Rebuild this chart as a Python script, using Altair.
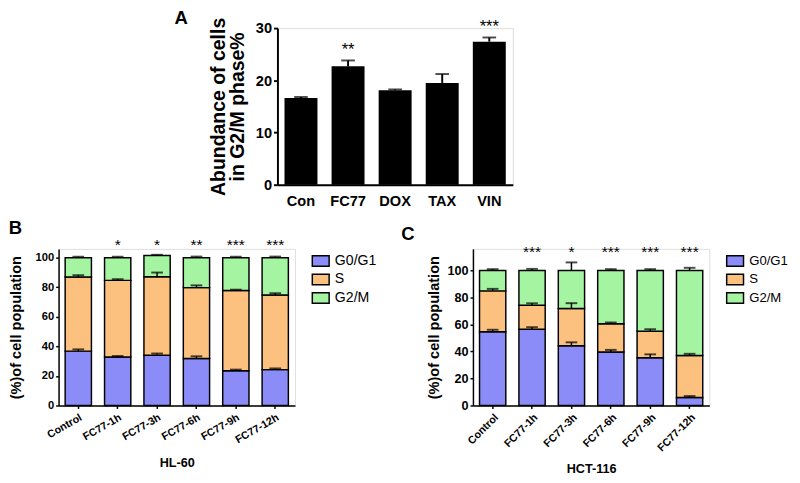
import altair as alt
import pandas as pd

FONT = "Liberation Sans"

# ---------------- Panel A data ----------------
a_groups = ["Con", "FC77", "DOX", "TAX", "VIN"]
a_means = [16.6, 22.7, 18.1, 19.5, 27.4]
a_errs = [0.2, 1.1, 0.15, 1.7, 0.8]
a_stars = ["", "**", "", "", "***"]

# ---------------- Panel B data (HL-60) ----------------
b_groups = ["Control", "FC77-1h", "FC77-3h", "FC77-6h", "FC77-9h", "FC77-12h"]
b_g0g1 = [36.8, 32.9, 34.0, 31.8, 23.5, 24.3]
b_s = [50.2, 51.8, 53.2, 48.0, 54.3, 50.5]
b_g2m = [13.0, 15.3, 14.3, 20.2, 22.2, 25.2]
b_g0g1_err = [1.2, 0.6, 1.2, 1.5, 0.8, 0.8]
b_s_err = [1.2, 0.8, 2.8, 1.5, 0.6, 1.2]
b_g2m_err = [0.7, 0.7, 0.5, 0.8, 0.7, 0.8]
b_stars = ["", "*", "*", "**", "***", "***"]

# ---------------- Panel C data (HCT-116) ----------------
c_groups = ["Control", "FC77-1h", "FC77-3h", "FC77-6h", "FC77-9h", "FC77-12h"]
c_g0g1 = [54.6, 56.5, 44.3, 39.7, 35.4, 6.0]
c_s = [30.3, 17.7, 27.5, 20.8, 19.6, 31.1]
c_g2m = [15.1, 25.8, 28.2, 39.5, 45.0, 62.9]
c_g0g1_err = [1.5, 1.5, 2.5, 1.5, 2.5, 1.0]
c_s_err = [1.5, 1.5, 4.0, 1.0, 1.5, 1.2]
c_g2m_err = [1.0, 1.2, 6.0, 1.0, 1.0, 2.0]
c_stars = ["", "***", "*", "***", "***", "***"]

phases = ["G0/G1", "S", "G2/M"]
phase_colors = ["#8C8CF8", "#FDC17F", "#A4F4A2"]


def stacked_df(groups, segs, errs):
    rows = []
    for i, g in enumerate(groups):
        start = 0.0
        for p, seg, err in zip(phases, segs, errs):
            end = start + seg[i]
            rows.append({"group": g, "phase": p, "start": start, "end": end,
                         "err_top": end + err[i]})
            start = end
    return pd.DataFrame(rows)


def stacked_panel(label, groups, segs, errs, stars, ymax, star_y, xtitle,
                  tick_fs, x_angle, x_title_pad, title_pad, legend_fs, title_dx, title_dy):
    df = stacked_df(groups, segs, errs)
    xaxis = alt.Axis(title=xtitle, labelAngle=x_angle, labelAlign="right", labelBaseline="top",
                     labelFont=FONT, labelFontSize=11, labelFontWeight="bold",
                     labelColor="black", tickColor="black", tickSize=3, tickWidth=1.5,
                     domainColor="black", domainWidth=1.5, labelPadding=3,
                     labelOverlap=False,
                     titleFont=FONT, titleFontSize=13, titleFontWeight="bold",
                     titleColor="black", titlePadding=x_title_pad)
    x = alt.X("group:N", sort=groups,
              scale=alt.Scale(paddingInner=0.333, paddingOuter=0.167), axis=xaxis)
    yscale = alt.Scale(domain=[0, ymax], nice=False, zero=True)
    yaxis = alt.Axis(title="(%)of cell population", values=[0, 20, 40, 60, 80, 100],
                     labelFont=FONT, labelFontSize=tick_fs, labelFontWeight="bold",
                     labelColor="black", tickColor="black", tickSize=3, tickWidth=1.5,
                     domainColor="black", domainWidth=1.5, grid=False, labelPadding=2,
                     labelOverlap=False,
                     titleFont=FONT, titleFontSize=15, titleFontWeight="bold",
                     titleColor="black", titlePadding=title_pad)
    y = alt.Y("start:Q", scale=yscale, axis=yaxis)
    bars = alt.Chart(df).mark_bar(stroke="black", strokeWidth=1.5).encode(
        x=x, y=y, y2="end:Q",
        color=alt.Color("phase:N", scale=alt.Scale(domain=phases, range=phase_colors),
                        legend=alt.Legend(title=None, orient="right", offset=14, padding=3,
                                          symbolType="M-1,-0.62H1V0.62H-1Z", symbolSize=300,
                                          symbolStrokeColor="black", symbolStrokeWidth=1.5,
                                          symbolOpacity=1, labelFont=FONT,
                                          labelFontSize=legend_fs, labelColor="black",
                                          labelOffset=5, rowPadding=1)),
    )
    err = alt.Chart(df).mark_rule(color="black", strokeWidth=1.5).encode(
        x=x, y=alt.Y("end:Q", scale=yscale, axis=yaxis), y2="err_top:Q")
    caps = alt.Chart(df).mark_tick(color="black", thickness=2, size=12,
                                   orient="horizontal").encode(
        x=x, y=alt.Y("err_top:Q", scale=yscale, axis=yaxis))
    sdf = pd.DataFrame({"group": groups, "star": stars})
    st = alt.Chart(sdf).mark_text(font=FONT, fontSize=16, baseline="alphabetic",
                                  color="black").encode(
        x=x, y=alt.YDatum(star_y, scale=yscale, axis=yaxis), text="star:N")
    return alt.layer(bars, err, caps, st).properties(
        width=243, height=161,
        title=alt.TitleParams(label, anchor="start", frame="bounds", font=FONT,
                              fontSize=19, fontWeight="bold", color="black",
                              dx=title_dx, dy=title_dy, offset=0))


# ---------------- Panel A ----------------
a_df = pd.DataFrame({"group": a_groups, "mean": a_means,
                     "top": [m + e for m, e in zip(a_means, a_errs)], "star": a_stars})
xA = alt.X("group:N", sort=a_groups, scale=alt.Scale(paddingInner=0.3, paddingOuter=0.15),
           axis=alt.Axis(title=None, labelAngle=0, labelFont=FONT, labelFontSize=15,
                         labelFontWeight="bold", labelColor="black", ticks=False,
                         domainColor="black", domainWidth=2, labelPadding=9))
yA_scale = alt.Scale(domain=[0, 30], nice=False)
yA_axis = alt.Axis(title=["Abundance of cells", "in G2/M phase%"], values=[0, 10, 20, 30],
                   labelFont=FONT, labelFontSize=15, labelFontWeight="bold",
                   labelColor="black", tickColor="black", tickSize=4, tickWidth=2,
                   domainColor="black", domainWidth=2, grid=False, labelPadding=2,
                   labelOverlap=False,
                   titleFont=FONT, titleFontSize=20, titleFontWeight="bold",
                   titleColor="black", titlePadding=8, titleLineHeight=20)
a_bars = alt.Chart(a_df).mark_bar(color="black").encode(
    x=xA, y=alt.Y("mean:Q", scale=yA_scale, axis=yA_axis))
a_err = alt.Chart(a_df).mark_rule(color="black", strokeWidth=2).encode(
    x=xA, y=alt.Y("mean:Q", scale=yA_scale, axis=yA_axis), y2="top:Q")
a_caps = alt.Chart(a_df).mark_tick(color="black", thickness=2, size=14,
                                   orient="horizontal").encode(
    x=xA, y=alt.Y("top:Q", scale=yA_scale, axis=yA_axis))
a_st = alt.Chart(a_df).mark_text(font=FONT, fontSize=17, baseline="alphabetic", dy=-6,
                                 color="black").encode(
    x=xA, y=alt.Y("top:Q", scale=yA_scale, axis=yA_axis), text="star:N")
panelA = alt.layer(a_bars, a_err, a_caps, a_st).properties(width=242, height=161)

# empty cell that carries the "A" panel label
spacer = alt.Chart(pd.DataFrame({"v": [0]})).mark_point(opacity=0).encode(
    x=alt.value(0), y=alt.value(0)).properties(
    width=133, height=161,
    view=alt.ViewBackground(stroke="transparent", strokeWidth=0),
    title=alt.TitleParams("A", anchor="end", frame="group", font=FONT, fontSize=19,
                          fontWeight="bold", color="black", offset=-3))

panelB = stacked_panel("B", b_groups, [b_g0g1, b_s, b_g2m],
                       [b_g0g1_err, b_s_err, b_g2m_err], b_stars, 106, 105, "HL-60",
                       11.5, -30, 12, 12, 14.5, 0, 0)
panelC = stacked_panel("C", c_groups, [c_g0g1, c_s, c_g2m],
                       [c_g0g1_err, c_s_err, c_g2m_err], c_stars, 116, 110, "HCT-116",
                       13, -45, 10, 6, 13.5, -26, 0)

top = alt.hconcat(spacer, panelA, spacing=20)
bottom = alt.hconcat(panelB, panelC, spacing=20).resolve_scale(
    color="independent", x="independent", y="independent")
chart = alt.vconcat(top, bottom, spacing=10).resolve_scale(
    color="independent", x="independent", y="independent").properties(
    padding={"top": -5, "left": 0, "right": 0, "bottom": 0}).configure_view(
    stroke="transparent").configure(font=FONT)

chart.save("out.html", embed_options={"renderer": "svg", "actions": False})
